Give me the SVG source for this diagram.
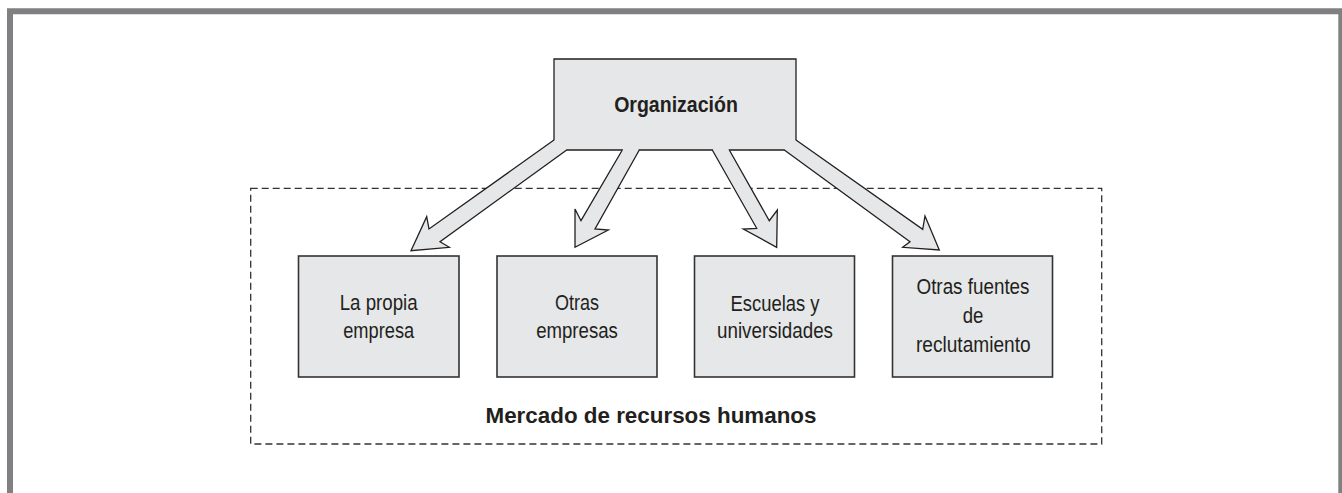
<svg xmlns="http://www.w3.org/2000/svg" width="1342" height="493" viewBox="0 0 1342 493">
<style>
.frame{fill:none;stroke:#808083;stroke-width:6}
.box{fill:#e6e7e8;stroke:#333333;stroke-width:1.6}
.fillonly{fill:#e6e7e8;stroke:none}
.outline{fill:none;stroke:#231f20;stroke-width:1.3;stroke-linejoin:miter;stroke-linecap:square}
.arrow{fill:#e6e7e8;stroke:#231f20;stroke-width:1.3;stroke-linejoin:miter}
.dash{fill:none;stroke:#333333;stroke-width:1.3;stroke-dasharray:7 4}
.t{font-family:"Liberation Sans",Arial,sans-serif;font-size:22px;fill:#231f20;text-anchor:middle}
.b{font-weight:bold}
</style>
<rect width="1342" height="493" fill="#ffffff"/>
<path class="frame" d="M10,493 V11.3 H1341.3 V493"/>
<g id="mercado">
<rect class="dash" x="250.7" y="188.3" width="851" height="255.7"/>
<text class="t b" x="651" y="423" textLength="331" lengthAdjust="spacingAndGlyphs">Mercado de recursos humanos</text>
</g>
<g id="organizacion">
<path class="fillonly" d="M554,59 H796 V140 L784.3,150 H566.7 L554,140 Z"/>
<path class="outline" d="M554,140 V59 H796 V140 M566.7,150 H622.3 M639.3,150 H712.3 M729.3,150 H784.3"/>
<text class="t b" x="676" y="111.7" font-size="23" textLength="123.7" lengthAdjust="spacingAndGlyphs">Organización</text>
</g>
<g id="connectors">
<path class="arrow" d="M554,140 L429,229 L426.7,216.7 L411,250.7 L449.3,247.3 L440,241.7 L566.7,150"/>
<path class="arrow" d="M622.3,150 L581,220.7 L575,209 L575,247.3 L608.3,230 L595,229 L639.3,150"/>
<path class="arrow" d="M712.3,150 L756.7,228.3 L743.3,229 L776.7,247.3 L777.3,210 L769.3,220.7 L729.3,150"/>
<path class="arrow" d="M796,140 L922.7,229.3 L925,216 L939.3,250 L902.7,247.3 L910,241.7 L784.3,150"/>
</g>
<g id="propia">
<rect class="box" x="298.5" y="256" width="160.5" height="121"/>
<text class="t" x="378.7" y="309.5" textLength="78" lengthAdjust="spacingAndGlyphs">La propia</text>
<text class="t" x="378.7" y="337.5" textLength="71" lengthAdjust="spacingAndGlyphs">empresa</text>
</g>
<g id="otras">
<rect class="box" x="497" y="256" width="160" height="121"/>
<text class="t" x="577" y="309.5" textLength="44" lengthAdjust="spacingAndGlyphs">Otras</text>
<text class="t" x="577" y="337.5" textLength="81.7" lengthAdjust="spacingAndGlyphs">empresas</text>
</g>
<g id="escuelas">
<rect class="box" x="694.5" y="256" width="160" height="121"/>
<text class="t" x="775" y="310.5" textLength="89" lengthAdjust="spacingAndGlyphs">Escuelas y</text>
<text class="t" x="775" y="338" textLength="116" lengthAdjust="spacingAndGlyphs">universidades</text>
</g>
<g id="fuentes">
<rect class="box" x="892.5" y="256" width="160" height="121"/>
<text class="t" x="973" y="294" textLength="113" lengthAdjust="spacingAndGlyphs">Otras fuentes</text>
<text class="t" x="973" y="322.7" textLength="20.7" lengthAdjust="spacingAndGlyphs">de</text>
<text class="t" x="973.3" y="351.5" textLength="114.7" lengthAdjust="spacingAndGlyphs">reclutamiento</text>
</g>
</svg>
